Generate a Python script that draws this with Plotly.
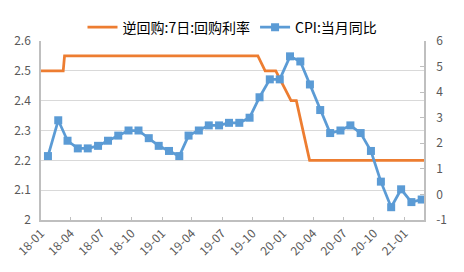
import plotly.graph_objects as go
import pandas as pd

# CPI monthly YoY (%), Jan 2018 - Feb 2021
cpi_months = pd.date_range("2018-01-01", periods=38, freq="MS") + pd.Timedelta(days=21)
cpi_values = [1.5, 2.9, 2.1, 1.8, 1.8, 1.9, 2.1, 2.3, 2.5, 2.5, 2.2, 1.9,
              1.7, 1.5, 2.3, 2.5, 2.7, 2.7, 2.8, 2.8, 3.0, 3.8, 4.5, 4.5,
              5.4, 5.2, 4.3, 3.3, 2.4, 2.5, 2.7, 2.4, 1.7, 0.5, -0.5, 0.2,
              -0.3, -0.2]

# 7-day reverse repo rate (%), observation dates as drawn
repo_dates = ["2018-01-01", "2018-03-09", "2018-03-13", "2019-10-17", "2019-11-08",
              "2019-12-10", "2020-01-25", "2020-02-10", "2020-03-21", "2021-03-01"]
repo_values = [2.50, 2.50, 2.55, 2.55, 2.50, 2.50, 2.40, 2.40, 2.20, 2.20]

right_tickvals = [-1, 0, 1, 2, 3, 4, 5, 6]
right_ticktext = ["-1", "0", "1", "2", "3", "4", "5", "6"]

ORANGE = "#ED7D31"
BLUE = "#5B9BD5"
FONT = "Noto Sans CJK SC"
TICKCOL = "#595959"
AXCOL = "#BFBFBF"

fig = go.Figure()
fig.add_trace(go.Scatter(
    x=repo_dates, y=repo_values, name="逆回购:7日:回购利率",
    mode="lines", line=dict(color=ORANGE, width=2.75), yaxis="y"))
fig.add_trace(go.Scatter(
    x=cpi_months, y=cpi_values, name="CPI:当月同比",
    mode="lines+markers", line=dict(color=BLUE, width=2.75),
    marker=dict(symbol="square", size=8, color=BLUE), yaxis="y2"))

fig.update_layout(
    width=464, height=272,
    margin=dict(l=41, r=40, t=31.5, b=51.5),
    paper_bgcolor="white", plot_bgcolor="white",
    font=dict(family=FONT, size=11, color=TICKCOL),
    showlegend=True,
    legend=dict(orientation="h", x=0.5, xanchor="center", y=1.075, yanchor="middle",
                font=dict(family=FONT, size=14, color="#000000"),
                bgcolor="rgba(0,0,0,0)", itemwidth=30, tracegroupgap=0),
    xaxis=dict(type="date", range=["2018-01-01", "2021-03-01"],
               tick0="2018-01-01", dtick="M3", tickformat="%y-%m",
               tickangle=-45, ticks="inside", ticklen=3, tickcolor=AXCOL,
               showline=True, linecolor=AXCOL, linewidth=1.5,
               showgrid=False, zeroline=False,
               tickfont=dict(family=FONT, size=12, color=TICKCOL)),
    yaxis=dict(range=[2, 2.6], dtick=0.1, showgrid=True, gridcolor="#D9D9D9",
               gridwidth=1, showline=True, linecolor=AXCOL, linewidth=1.5,
               zeroline=False, ticks="", ticklabelstandoff=6,
               tickfont=dict(family=FONT, size=12, color=TICKCOL)),
    yaxis2=dict(range=[-1, 6], overlaying="y", side="right",
                tickvals=right_tickvals, ticktext=right_ticktext,
                showgrid=False, showline=True, linecolor=AXCOL, linewidth=1.5,
                zeroline=False, ticks="inside", ticklen=4, tickcolor=AXCOL,
                ticklabelstandoff=8,
                tickfont=dict(family=FONT, size=12, color=TICKCOL)),
)

fig.write_html("out.html")
